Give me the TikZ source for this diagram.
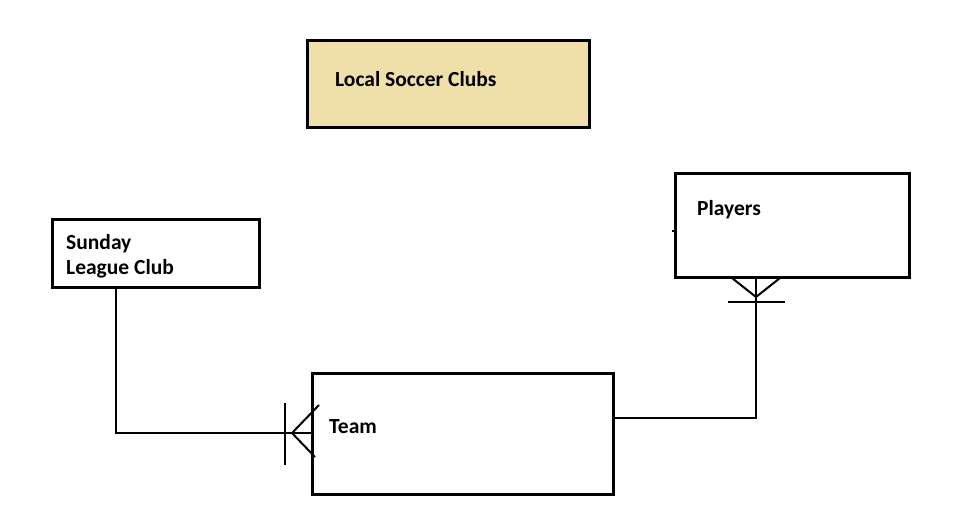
\documentclass[tikz,border=0pt]{standalone}
\usepackage{fontspec}
\setmainfont{Carlito}
\begin{document}
\begin{tikzpicture}[x=1pt,y=-1pt,
  ebox/.style={draw=black,line width=3pt,inner sep=0pt},
  lbl/.style={anchor=base west,inner sep=0pt,font=\fontsize{21.5}{25}\selectfont\bfseries,align=left},
  conn/.style={draw=black,line width=2pt}]
\useasboundingbox (0,0) rectangle (970,527);
% boxes
\node[ebox,fill={rgb,255:red,239;green,224;blue,169},minimum width=282pt,minimum height=86pt] (clubs) at (448,84) {};
\node[ebox,minimum width=207pt,minimum height=68pt] (sunday) at (155.5,253) {};
\node[ebox,minimum width=234pt,minimum height=104pt] (players) at (792,225) {};
\node[ebox,minimum width=301pt,minimum height=121pt] (team) at (462.5,433.5) {};
% labels
\node[lbl] (tclubs) at (335,87) {Local Soccer Clubs};
\node[lbl] (tsun1) at (66,249) {Sunday};
\node[lbl] (tsun2) at (66,274) {League Club};
\node[lbl] (tplayers) at (697,215) {Players};
\node[lbl] (tteam) at (329,433) {Team};
% connector Sunday -> Team
\coordinate (sb) at (116,287);
\coordinate (sc) at (116,433);
\coordinate (ta) at (292,433);
\draw[conn] (sunday.south -| sb) -- (sc) -- (team.west |- sc);
\draw[conn] (ta) -- (319,405);
\draw[conn] (ta) -- (315,457);
\draw[conn] (285,403) -- (285,465);
% connector Team -> Players
\coordinate (tr) at (613,418);
\coordinate (pc) at (756,418);
\coordinate (pa) at (756,297);
\draw[conn] (team.east |- tr) -- (pc) -- (players.south -| pc);
\draw[conn] (pa) -- (732,278);
\draw[conn] (pa) -- (780,278);
\draw[conn] (728,302) -- (785,302);
% small tick on Players
\draw[conn] (672,231) -- (players.west |- 0,231);
\end{tikzpicture}
\end{document}
